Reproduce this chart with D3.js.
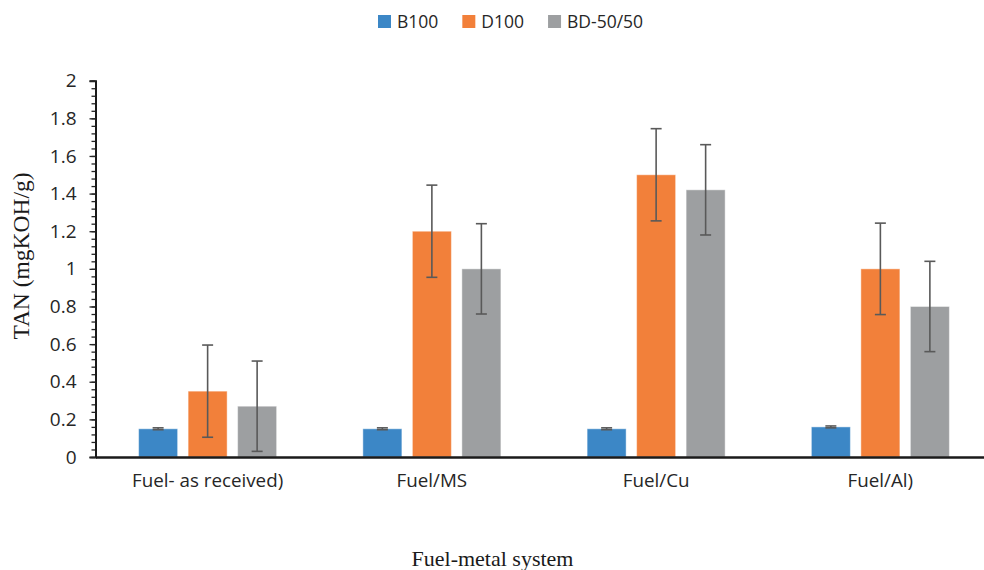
<!DOCTYPE html>
<html lang="en">
<meta charset="utf-8">
<style type="text/css">
  body { margin: 0; background: #fff; }
  .tick text { font-family: 'Open Sans', sans-serif; fill: #262626; }
</style>
<script src="https://d3js.org/d3.v7.min.js"></script>
<body>
<div id="chart"></div>
<script type="text/javascript">
  // data
  var categories = ['Fuel- as received)', 'Fuel/MS', 'Fuel/Cu', 'Fuel/Al)'];
  var series = ['B100', 'D100', 'BD-50/50'];
  var colors = ['#3c87c6', '#f2803a', '#9d9fa1'];
  var b100 = [0.15, 0.15, 0.15, 0.16];
  var d100 = [0.35, 1.2, 1.5, 1.0];
  var bd50 = [0.27, 1.0, 1.42, 0.8];
  var b100Err = [0.005, 0.005, 0.005, 0.005];
  var d100Err = [0.245, 0.245, 0.245, 0.243];
  var bd50Err = [0.24, 0.24, 0.24, 0.24];
  var yTicks = [0, 0.2, 0.4, 0.6, 0.8, 1, 1.2, 1.4, 1.6, 1.8, 2];

  var w = 984, h = 570;
  var padL = 95.5, padR = 992.5, padT = 80.7, padB = 457;

  var values = [b100, d100, bd50];
  var errs = [b100Err, d100Err, bd50Err];
  var rows = [];
  categories.forEach(function(c, i) {
    series.forEach(function(s, j) {
      rows.push({cat: c, ser: s, val: values[j][i], err: errs[j][i], col: colors[j]});
    });
  });

  var svg = d3.select("#chart").append("svg")
    .attr("width", w)
    .attr("height", h);

  var x = d3.scaleBand()
    .domain(categories)
    .range([padL, padR]);

  var xs = d3.scaleBand()
    .domain(series)
    .range([0, x.bandwidth()])
    .paddingInner(0.212)
    .paddingOuter(0.871);

  var y = d3.scaleLinear()
    .domain([0, 2])
    .range([padB, padT]);

  // minor ticks
  svg.append("g")
    .attr("transform", "translate(" + padL + ",0)")
    .call(d3.axisLeft(y).tickValues(d3.range(0, 2.001, 0.04)).tickSize(4).tickFormat(""))
    .call(g => g.select(".domain").remove())
    .selectAll("line").attr("stroke", "#262626").attr("stroke-width", 1.3);

  // bars
  svg.selectAll("rect.bar")
    .data(rows)
    .enter()
    .append("rect")
      .attr("class", "bar")
      .attr("x", d => x(d.cat) + xs(d.ser))
      .attr("y", d => y(d.val))
      .attr("width", xs.bandwidth())
      .attr("height", d => y(0) - y(d.val))
      .attr("fill", d => d.col)
      .attr("stroke", "rgba(255,255,255,0.45)")
      .attr("stroke-width", 1);

  // error bars
  var eb = svg.selectAll("g.err")
    .data(rows)
    .enter()
    .append("g")
      .attr("class", "err")
      .attr("stroke", "#595959")
      .attr("stroke-width", 1.6);
  eb.append("line")
    .attr("x1", d => x(d.cat) + xs(d.ser) + xs.bandwidth() / 2)
    .attr("x2", d => x(d.cat) + xs(d.ser) + xs.bandwidth() / 2)
    .attr("y1", d => y(d.val + d.err))
    .attr("y2", d => y(d.val - d.err));
  eb.selectAll("line.cap")
    .data(d => [d.val + d.err, d.val - d.err].map(v => ({d: d, v: v})))
    .enter()
    .append("line")
      .attr("class", "cap")
      .attr("x1", e => x(e.d.cat) + xs(e.d.ser) + xs.bandwidth() / 2 - 5.5)
      .attr("x2", e => x(e.d.cat) + xs(e.d.ser) + xs.bandwidth() / 2 + 5.5)
      .attr("y1", e => y(e.v))
      .attr("y2", e => y(e.v));

  // y axis
  svg.append("g")
    .attr("transform", "translate(" + padL + ",0)")
    .call(d3.axisLeft(y).tickValues(yTicks).tickSize(6).tickPadding(13)
      .tickFormat(d => String(+d.toFixed(1))))
    .call(g => g.select(".domain").attr("stroke", "#1a1a1a").attr("stroke-width", 2))
    .call(g => g.selectAll("line").attr("stroke", "#262626").attr("stroke-width", 1.3))
    .selectAll("text")
      .style("font-size", "19px");

  // x axis
  svg.append("g")
    .attr("transform", "translate(0," + padB + ")")
    .call(d3.axisBottom(x).tickSize(0).tickPadding(17))
    .call(g => g.select(".domain").attr("stroke", "#1a1a1a").attr("stroke-width", 2.4))
    .selectAll("text")
      .style("font-size", "18.8px");

  // axis titles
  svg.append("text")
    .attr("transform", "translate(29,256)rotate(-90)")
    .attr("text-anchor", "middle")
    .style("font-family", "'Liberation Serif', 'Times New Roman', serif")
    .style("font-size", "23.5px")
    .attr("fill", "#1a1a1a")
    .text("TAN (mgKOH/g)");

  svg.append("text")
    .attr("x", 492.5)
    .attr("y", 566)
    .attr("text-anchor", "middle")
    .style("font-family", "'Liberation Serif', 'Times New Roman', serif")
    .style("font-size", "22px")
    .attr("fill", "#1a1a1a")
    .text("Fuel-metal system");

  // legend
  var legend = svg.append("g").attr("transform", "translate(378,15)");
  var lx = 0;
  series.forEach(function(s, i) {
    var item = legend.append("g").attr("transform", "translate(" + lx + ",0)");
    item.append("rect")
      .attr("width", 13)
      .attr("height", 13)
      .attr("fill", colors[i]);
    var t = item.append("text")
      .attr("x", 19)
      .attr("y", 13)
      .style("font-family", "'Open Sans', sans-serif")
      .style("font-size", "17.5px")
      .attr("fill", "#262626")
      .text(s);
    lx += 19 + t.node().getComputedTextLength() + 24;
  });
</script>
</body>
</html>
